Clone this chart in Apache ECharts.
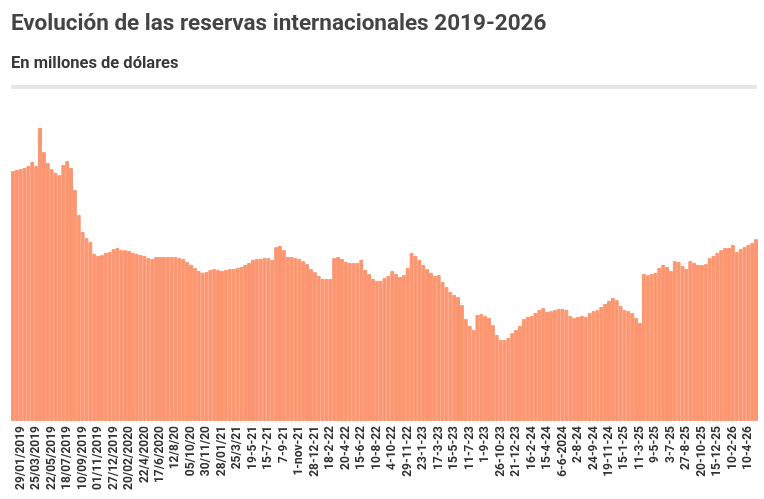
<!DOCTYPE html>
<html>
<head>
<meta charset="utf-8">
<title>Reservas internacionales</title>
<script src="https://cdn.jsdelivr.net/npm/echarts@6/dist/echarts.min.js"></script>
<style>
  html, body { margin: 0; padding: 0; background: #fff; }
  #chart { width: 764px; height: 499px; }
</style>
</head>
<body>
<div id="chart"></div>
<script>
// tick labels shown under the axis (one every 4 bars)
var tickLabels = [
  '29/01/2019', '25/03/2019', '22/05/2019', '18/07/2019', '10/09/2019', '01/11/2019',
  '27/12/2019', '20/02/2020', '22/4/2020', '17/6/2020', '12/8/20', '05/10/20',
  '30/11/20', '28/01/21', '25/3/21', '19-5-21', '15-7-21', '7-9-21',
  '1-nov-21', '28-12-21', '18-2-22', '20-4-22', '15-6-22', '10-8-22',
  '4-10-22', '29-11-22', '23-1-23', '17-3-23', '15-5-23', '11-7-23',
  '1-9-23', '26-10-23', '21-12-23', '16-2-24', '15-4-24', '6-6-2024',
  '2-8-24', '24-9-24', '19-11-24', '15-1-25', '11-3-25', '9-5-25',
  '3-7-25', '27-8-25', '20-10-25', '15-12-25', '10-2-26', '10-4-26'
];

// reservas, millones de USD
var reservas2019 = [
  66000, 66300, 66500, 66800, 67300, 68400, 67300, 77400, 71000, 68100,
  66500, 65500, 64900, 67600, 68600, 66800, 61000, 54400, 49900, 48300,
  47300, 44100, 43600, 43800, 44400, 44600
];
var reservas2020 = [
  45400, 45700, 45100, 45100, 44900, 44400, 44100, 43800, 43600, 43000,
  42800, 43300, 43300, 43300, 43300, 43300, 43300, 43000, 42800, 42000,
  41200, 40400, 39600, 39100, 39300, 39900
];
var reservas2021 = [
  40100, 39900, 39600, 39900, 40100, 40100, 40400, 40700, 41200, 41700,
  42500, 42800, 42800, 43000, 43000, 42500, 45900, 46200, 45100, 43300,
  43300, 43000, 42800, 42200, 41400, 40100
];
var reservas2022 = [
  39300, 38300, 37500, 37500, 37500, 43000, 43300, 42800, 42000, 41700,
  41700, 41700, 42500, 39900, 38800, 37500, 37000, 37000, 37800, 38300,
  39600, 38800, 38000, 38500, 40400, 44400
];
var reservas2023 = [
  43600, 42500, 41200, 40100, 39100, 38300, 38500, 36700, 35400, 34100,
  33300, 32700, 30600, 26900, 25100, 24000, 28000, 28200, 27700, 27200,
  25300, 22700, 21400, 21400, 21900, 23200
];
var reservas2024 = [
  24000, 25100, 26900, 27500, 27700, 28500, 29300, 29800, 28800, 29000,
  29300, 29600, 29600, 29300, 27700, 27200, 27500, 27700, 27500, 28500,
  29000, 29300, 30100, 30900, 31700, 32500
];
var reservas2025 = [
  31900, 30400, 29300, 29000, 28500, 27200, 25900, 38800, 38500, 38800,
  39100, 40400, 41200, 40700, 39600, 42200, 42000, 40900, 40100, 42200,
  41700, 41200, 41200, 41400, 43000, 43600
];
var reservas2026 = [
  44400, 45100, 45700, 45700, 46500, 44600, 45400, 45900, 46500, 47000,
  48000
];

var values = [].concat(reservas2019, reservas2020, reservas2021, reservas2022,
  reservas2023, reservas2024, reservas2025, reservas2026);

// category axis: every 4th bar carries a tick label
var categories = values.map(function (v, i) {
  var k = (i - 2) / 4;
  return (i >= 2 && (i - 2) % 4 === 0 && tickLabels[k]) ? tickLabels[k] : '';
});

var dom = document.getElementById('chart');
var myChart = echarts.init(dom, null, { renderer: 'canvas' });

var option = {
  backgroundColor: '#ffffff',
  animation: false,
  title: [
    {
      text: 'Evolución de las reservas internacionales 2019-2026',
      left: 11,
      top: 13,
      padding: 0,
      textStyle: {
        fontFamily: 'Roboto',
        fontSize: 22.5,
        fontWeight: 'bold',
        color: '#444444'
      }
    },
    {
      text: 'En millones de dólares',
      left: 11,
      top: 55,
      padding: 0,
      textStyle: {
        fontFamily: 'Roboto',
        fontSize: 16.5,
        fontWeight: 'bold',
        color: '#383838'
      }
    }
  ],
  graphic: [
    {
      type: 'rect',
      left: 11,
      top: 85,
      shape: { width: 746, height: 4 },
      style: { fill: '#e6e6e6' }
    }
  ],
  grid: {
    left: 11,
    right: 6,
    top: 118,
    bottom: 78
  },
  xAxis: {
    type: 'category',
    data: categories,
    boundaryGap: true,
    axisLine: { show: false },
    axisTick: { show: false },
    axisLabel: {
      interval: 0,
      rotate: 90,
      margin: 5,
      fontFamily: 'Roboto',
      fontSize: 12,
      fontWeight: 'bold',
      color: '#333333'
    }
  },
  yAxis: {
    type: 'value',
    min: 0,
    max: 80000,
    show: false,
    splitLine: { show: false }
  },
  series: [
    {
      type: 'bar',
      data: values,
      barWidth: '100%',
      barCategoryGap: 0,
      itemStyle: {
        color: '#fc9670',
        borderColor: '#fc9670',
        borderWidth: 1
      }
    }
  ]
};

myChart.setOption(option);
window.addEventListener('resize', myChart.resize);
</script>
</body>
</html>
